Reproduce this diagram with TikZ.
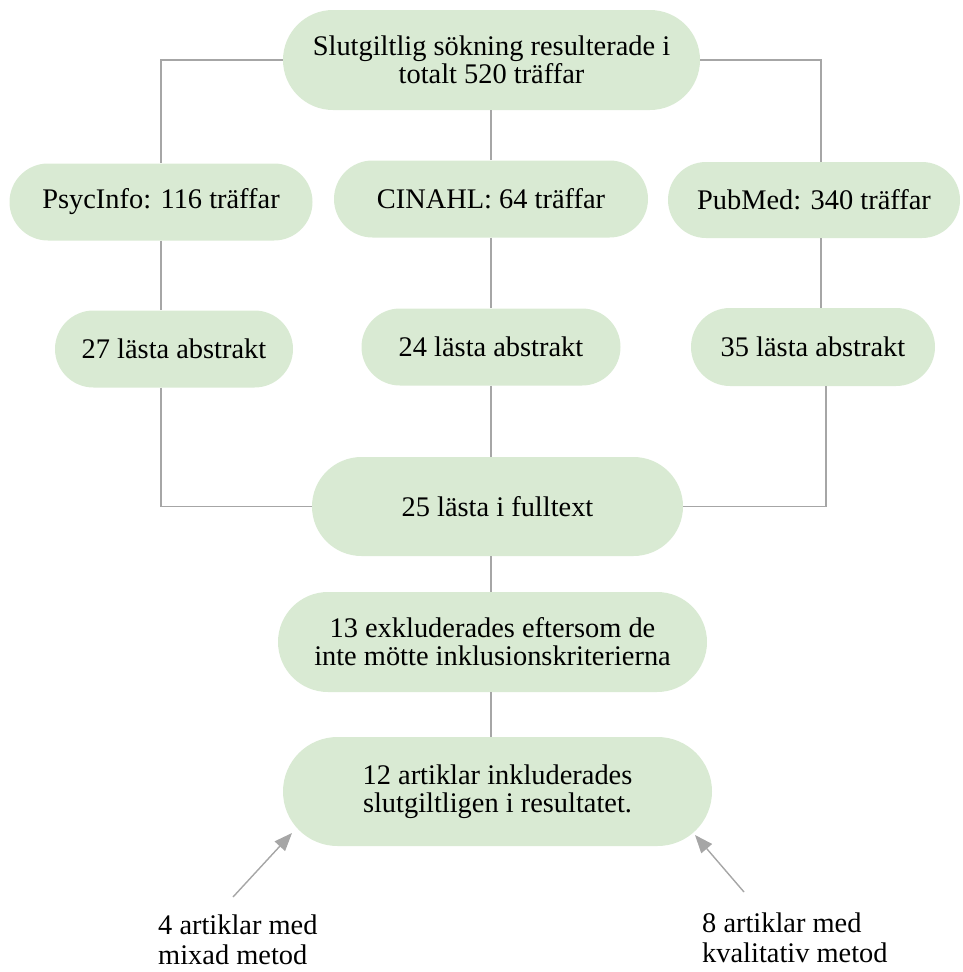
\documentclass[tikz,border=0pt]{standalone}
\usepackage{fontspec}
\setmainfont{Liberation Serif}
\usetikzlibrary{arrows.meta}
\definecolor{boxgreen}{HTML}{D9EAD3}
\definecolor{linegray}{HTML}{A6A6A6}
\begin{document}
\begin{tikzpicture}[x=1pt,y=-1pt,
  pill/.style={rectangle, fill=boxgreen, draw=none, align=center, inner sep=0pt,
    font=\fontsize{28.4}{28}\selectfont},
  conn/.style={draw=linegray, line width=1.4pt},
  arr/.style={draw=linegray, line width=1.4pt, -{Triangle[length=18pt,width=14pt]}, fill=linegray},
  lbl/.style={anchor=north west, align=left, inner sep=0pt, font=\fontsize{28.4}{30}\selectfont}]
\useasboundingbox (0,0) rectangle (962,972);

\node[pill, minimum width=417, minimum height=100, rounded corners=50] (top) at (491.5,60) {Slutgiltlig sökning resulterade i\\totalt 520 träffar};

\node[pill, minimum width=303, minimum height=77, rounded corners=38.5] (psyc) at (161,202) {PsycInfo: 116 träffar};
\node[pill, minimum width=314, minimum height=77, rounded corners=38.5] (cin) at (491,199) {CINAHL: 64 träffar};
\node[pill, minimum width=292, minimum height=76, rounded corners=38] (pub) at (814,200) {PubMed: 340 träffar};

\node[pill, minimum width=238, minimum height=77, rounded corners=38.5] (a27) at (174,349) {27 lästa abstrakt};
\node[pill, minimum width=259, minimum height=77, rounded corners=38.5] (a24) at (491,347) {\raisebox{-5pt}{24 lästa abstrakt}};
\node[pill, minimum width=244, minimum height=78, rounded corners=39] (a35) at (813,347) {35 lästa abstrakt};

\node[pill, minimum width=371, minimum height=99, rounded corners=49.5] (full) at (497.5,506.5) {\raisebox{-6pt}{25 lästa i fulltext}};
\node[pill, minimum width=429, minimum height=100, rounded corners=50] (excl) at (492.5,642) {13 exkluderades eftersom de\\inte mötte inklusionskriterierna};
\node[pill, minimum width=429, minimum height=109, rounded corners=54.5] (incl) at (497.5,791.5) {12 artiklar inkluderades\\slutgiltligen i resultatet.};

\node[lbl] (mix) at (158,915) {4 artiklar med\\mixad metod};
\node[lbl] (kval) at (702,913) {8 artiklar med\\kvalitativ metod};

% connectors
\draw[conn] (top.west) -| (psyc.north);
\draw[conn] (top.east) -| ([xshift=7]pub.north);
\draw[conn] (top.south -| cin.north) -- (cin.north);
\draw[conn] (psyc.south) -- (psyc.south |- a27.north);
\draw[conn] (cin.south) -- (a24.north);
\draw[conn] ([xshift=7]pub.south) -- ([xshift=7]pub.south |- a35.north);
\draw[conn] (psyc.south |- a27.south) |- (full.west);
\draw[conn] (a24.south) -- (a24.south |- full.north);
\draw[conn] ([xshift=13]a35.south) |- (full.east);
\draw[conn] (full.south -| a24.south) -- (excl.north -| a24.south);
\draw[conn] (excl.south -| a24.south) -- (incl.north -| a24.south);

% arrows
\coordinate (mixs) at (233,897);
\coordinate (mixt) at (292,833);
\coordinate (kvals) at (744,892);
\coordinate (kvalt) at (695,835);
\draw[arr] (mixs) -- (mixt);
\draw[arr] (kvals) -- (kvalt);
\end{tikzpicture}
\end{document}
